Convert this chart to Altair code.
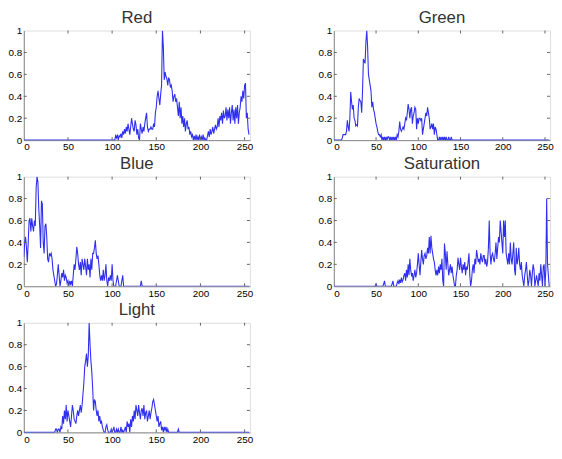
import altair as alt
import pandas as pd

X_TICKS = [0, 50, 100, 150, 200, 250]
Y_TICKS = [0, 0.2, 0.4, 0.6, 0.8, 1]
N_BINS = 256

# Each channel: first non-zero bin and the values (zero elsewhere)
RED_START = 100
RED = [
    0, 0, 0, 0, 0.04, 0.02, 0.05, 0.0, 0.04, 0.03,
    0.06, 0.02, 0.08, 0.05, 0.1, 0.06, 0.12, 0.08, 0.15, 0.1,
    0.05, 0.12, 0.2, 0.15, 0.1, 0.08, 0.18, 0.14, 0.05, 0.1,
    0.02, 0.0, 0.15, 0.1, 0.06, 0.12, 0.08, 0.15, 0.2, 0.25,
    0.12, 0.08, 0.1, 0.1, 0.12, 0.1, 0.1, 0.15, 0.12, 0.25,
    0.3, 0.4, 0.45, 0.38, 0.32, 0.42, 0.5, 1.0, 0.85, 0.55,
    0.62, 0.58, 0.56, 0.5, 0.57, 0.55, 0.48, 0.5, 0.45, 0.35,
    0.4, 0.42, 0.35, 0.38, 0.3, 0.22, 0.35, 0.2, 0.3, 0.15,
    0.22, 0.12, 0.2, 0.08, 0.15, 0.18, 0.1, 0.12, 0.05, 0.08,
    0.03, 0.05, 0.0, 0.04, 0.0, 0.05, 0.0, 0.03, 0.0, 0.05,
    0.0, 0.03, 0.0, 0.05, 0.0, 0.02, 0.0, 0.0, 0.04, 0.08,
    0.03, 0.1, 0.05, 0.08, 0.12, 0.06, 0.1, 0.14, 0.1, 0.12,
    0.2, 0.12, 0.22, 0.18, 0.25, 0.15, 0.27, 0.2, 0.22, 0.3,
    0.18, 0.28, 0.2, 0.3, 0.15, 0.25, 0.32, 0.18, 0.28, 0.15,
    0.3, 0.2, 0.32, 0.15, 0.25, 0.3, 0.4, 0.35, 0.45, 0.38,
    0.5, 0.52, 0.2, 0.25, 0.1, 0.05,
]

GREEN_START = 10
GREEN = [
    0.02, 0.05, 0.05, 0.05, 0.05, 0.08, 0.18, 0.12, 0.08, 0.2,
    0.44, 0.35, 0.28, 0.32, 0.2, 0.18, 0.13, 0.14, 0.13, 0.3,
    0.38, 0.36, 0.35, 0.25, 0.45, 0.74, 0.72, 0.7, 0.9, 1.0,
    0.85, 0.6, 0.55, 0.5, 0.45, 0.3, 0.35, 0.28, 0.25, 0.2,
    0.15, 0.12, 0.08, 0.05, 0.05, 0.03, 0.05, 0.0, 0.03, 0.0,
    0.03, 0.0, 0.03, 0.0, 0.03, 0.03, 0.0, 0.03, 0.0, 0.03,
    0.0, 0.03, 0.0, 0.03, 0.0, 0.05, 0.03, 0.08, 0.17, 0.1,
    0.08, 0.1, 0.12, 0.1, 0.15, 0.2, 0.18, 0.25, 0.33, 0.28,
    0.2, 0.28, 0.3, 0.15, 0.22, 0.25, 0.3, 0.28, 0.1, 0.2,
    0.15, 0.2, 0.2, 0.18, 0.2, 0.05, 0.1, 0.15, 0.2, 0.25,
    0.22, 0.3, 0.25, 0.2, 0.1, 0.12, 0.15, 0.1, 0.15, 0.05,
    0.12, 0.1, 0.05, 0.0, 0.0, 0.03, 0.0, 0.03, 0.0, 0.03,
    0.0, 0.03, 0.0, 0.03, 0.0, 0.0, 0.03, 0.0, 0.0, 0.03,
]

BLUE_START = 0
BLUE = [
    0.27, 0.4, 0.45, 0.35, 0.22, 0.4, 0.6, 0.62, 0.5, 0.62,
    0.55, 0.5, 0.6, 0.55, 0.9, 1.0, 0.95, 0.7, 0.55, 0.35,
    0.78, 0.75, 0.4, 0.3, 0.55, 0.57, 0.45, 0.25, 0.22, 0.3,
    0.28, 0.3, 0.25, 0.15, 0.1, 0.05, 0.0, 0.02, 0.1, 0.2,
    0.1, 0.0, 0.05, 0.12, 0.08, 0.15, 0.05, 0.1, 0.08, 0.03,
    0.05, 0.0, 0.05, 0.02, 0.05, 0.0, 0.1, 0.2, 0.15, 0.25,
    0.36, 0.3, 0.2, 0.15, 0.22, 0.1, 0.25, 0.2, 0.15, 0.25,
    0.18, 0.1, 0.25, 0.15, 0.2, 0.08, 0.25, 0.15, 0.3, 0.3,
    0.35, 0.42, 0.3, 0.25, 0.28, 0.2, 0.1, 0.05, 0.1, 0.05,
    0.15, 0.05, 0.1, 0.2, 0.05, 0.0, 0.08, 0.05, 0.1, 0.05,
    0.2, 0.05, 0.0, 0.0, 0.0, 0.05, 0.1, 0.05, 0.0, 0.0,
    0.0, 0.05, 0.1, 0.0, 0.0, 0.0, 0.0, 0.0, 0.0, 0.0,
    0.0, 0.0, 0.0, 0.0, 0.0, 0.0, 0.0, 0.0, 0.0, 0.0,
    0.0, 0.0, 0.0, 0.05, 0.0,
]

SAT_START = 50
SATURATION = [
    0.02, 0, 0, 0, 0, 0, 0, 0, 0, 0.02,
    0.05, 0, 0, 0, 0, 0, 0, 0, 0, 0.02,
    0.05, 0, 0, 0, 0, 0.03, 0.05, 0.02, 0.06, 0.03,
    0.08, 0.04, 0.06, 0.1, 0.12, 0.05, 0.15, 0.08, 0.2, 0.1,
    0.25, 0.15, 0.1, 0.12, 0.05, 0.1, 0.15, 0.08, 0.12, 0.2,
    0.3, 0.2, 0.1, 0.22, 0.33, 0.25, 0.2, 0.28, 0.3, 0.25,
    0.28, 0.35, 0.3, 0.45, 0.3, 0.46, 0.35, 0.3, 0.25, 0.22,
    0.15, 0.1, 0.15, 0.1, 0.18, 0.12, 0.2, 0.15, 0.25, 0.05,
    0.0, 0.39, 0.3, 0.15, 0.32, 0.2, 0.1, 0.15, 0.2, 0.12,
    0.18, 0.1, 0.05, 0.0, 0.0, 0.1, 0.15, 0.26, 0.2, 0.15,
    0.26, 0.18, 0.12, 0.2, 0.15, 0.22, 0.1, 0.18, 0.15, 0.22,
    0.3, 0.1, 0.0, 0.05, 0.15, 0.2, 0.12, 0.25, 0.2, 0.33,
    0.28, 0.22, 0.25, 0.2, 0.3, 0.25, 0.22, 0.28, 0.28, 0.2,
    0.25, 0.18, 0.22, 0.35, 0.6, 0.3, 0.2, 0.28, 0.3, 0.25,
    0.22, 0.3, 0.4, 0.25, 0.35, 0.45, 0.4, 0.6, 0.5, 0.4,
    0.3, 0.6, 0.45, 0.6, 0.3, 0.25, 0.2, 0.3, 0.2, 0.4,
    0.25, 0.2, 0.3, 0.4, 0.15, 0.1, 0.35, 0.2, 0.25, 0.35,
    0.2, 0.15, 0.22, 0.1, 0.05, 0.0, 0.1, 0.15, 0.22, 0.1,
    0.0, 0.05, 0.15, 0.1, 0.0, 0.12, 0.2, 0.15, 0.0, 0.05,
    0.1, 0.05, 0.0, 0.12, 0.05, 0.2, 0.1, 0.0, 0.18, 0.2,
    0.0, 0.15, 0.8, 0.2, 0.1, 0.0,
]

LIGHT_START = 36
LIGHT = [
    0.03, 0.03, 0.0, 0.03, 0.03, 0.0, 0.05, 0.03, 0.15, 0.08,
    0.2, 0.12, 0.25, 0.1, 0.2, 0.15, 0.1, 0.05, 0.15, 0.25,
    0.2, 0.12, 0.1, 0.08, 0.15, 0.2, 0.15, 0.2, 0.25, 0.18,
    0.25, 0.35, 0.45, 0.6, 0.65, 0.72, 0.6, 0.7, 1.0, 0.8,
    0.65, 0.55, 0.4, 0.2, 0.3, 0.28, 0.2, 0.15, 0.2, 0.1,
    0.15, 0.08, 0.1, 0.05, 0.02, 0.0, 0.0, 0.05, 0.07, 0.02,
    0.0, 0.0, 0.0, 0.03, 0.0, 0.02, 0.05, 0.0, 0.0, 0.03,
    0.0, 0.03, 0.0, 0.0, 0.05, 0.0, 0.02, 0.0, 0.02, 0.05,
    0.0, 0.1, 0.05, 0.08, 0.0, 0.12, 0.05, 0.15, 0.1, 0.2,
    0.12, 0.25, 0.2, 0.15, 0.25, 0.18, 0.12, 0.2, 0.22, 0.15,
    0.25, 0.12, 0.18, 0.2, 0.1, 0.15, 0.2, 0.12, 0.18, 0.22,
    0.28, 0.3, 0.25, 0.2, 0.15, 0.1, 0.15, 0.05, 0.08, 0.1,
    0.02, 0.05, 0.0, 0.05, 0.02, 0.05, 0.0, 0.03, 0.0, 0.0,
    0.0, 0.0, 0.0, 0.0, 0.0, 0.0, 0.0, 0.0, 0.0, 0.03,
    0.0,
]

LINE_COLOR = "#2f2ff0"
FRAME_COLOR = "#666666"
TEXT_COLOR = "#333333"
H = 111
W_LEFT = 229
W_RIGHT = 219


def table(start, vals):
    y = [0.0] * N_BINS
    for i, v in enumerate(vals):
        y[start + i] = v
    return pd.DataFrame({"x": list(range(N_BINS)), "y": y})


def panel(title, start, vals, w, title_size=17):
    xs = alt.Scale(domain=[0, 256], nice=False, zero=False)
    ys = alt.Scale(domain=[0, 1], nice=False)
    xa = alt.Axis(values=X_TICKS, title=None, format="d", grid=False, ticks=False, tickSize=0)
    ya = alt.Axis(values=Y_TICKS, title=None, format="~g", grid=False, ticks=False, tickSize=0)
    line = alt.Chart(table(start, vals)).mark_line(
        color=LINE_COLOR, strokeWidth=1.1, clip=True, interpolate="linear"
    ).encode(
        x=alt.X("x:Q", scale=xs, axis=xa),
        y=alt.Y("y:Q", scale=ys, axis=ya),
    )
    xt = pd.DataFrame({"t": X_TICKS[1:]})
    yt = pd.DataFrame({"t": Y_TICKS[1:-1]})
    tx = alt.X("t:Q", scale=xs, axis=xa)
    ty = alt.Y("t:Q", scale=ys, axis=ya)
    bottom = alt.Chart(xt).mark_rule(color=FRAME_COLOR, strokeWidth=1).encode(
        x=tx, y=alt.value(H), y2=alt.value(H - 3))
    top = alt.Chart(xt).mark_rule(color=FRAME_COLOR, strokeWidth=1).encode(
        x=tx, y=alt.value(0), y2=alt.value(3))
    left = alt.Chart(yt).mark_rule(color=FRAME_COLOR, strokeWidth=1).encode(
        y=ty, x=alt.value(0), x2=alt.value(3))
    right = alt.Chart(yt).mark_rule(color=FRAME_COLOR, strokeWidth=1).encode(
        y=ty, x=alt.value(w - 3), x2=alt.value(w))
    return alt.layer(line, bottom, top, left, right).properties(
        width=w, height=H,
        title=alt.TitleParams(title, fontSize=title_size, font="Liberation Sans",
                              fontWeight="normal", color=TEXT_COLOR, offset=-1, anchor="middle"),
    )


charts = [
    panel("Red", RED_START, RED, W_LEFT),
    panel("Green", GREEN_START, GREEN, W_RIGHT),
    panel("Blue", BLUE_START, BLUE, W_LEFT),
    panel("Saturation", SAT_START, SATURATION, W_RIGHT),
    panel("Light", LIGHT_START, LIGHT, W_LEFT),
]

chart = alt.concat(
    *charts, columns=2, spacing={"row": 37, "column": 85}, bounds="flush"
).properties(
    padding={"left": -1, "top": -3, "right": 0, "bottom": 0}
).configure_view(
    stroke=FRAME_COLOR, strokeWidth=1
).configure_axis(
    domain=False, ticks=False, tickSize=0, grid=False, labelFontSize=7,
    labelColor="#444444", labelFont="Liberation Sans", labelPadding=3,
).configure(background="white")

chart.save("out.html", embed_options={"renderer": "svg", "actions": False})
